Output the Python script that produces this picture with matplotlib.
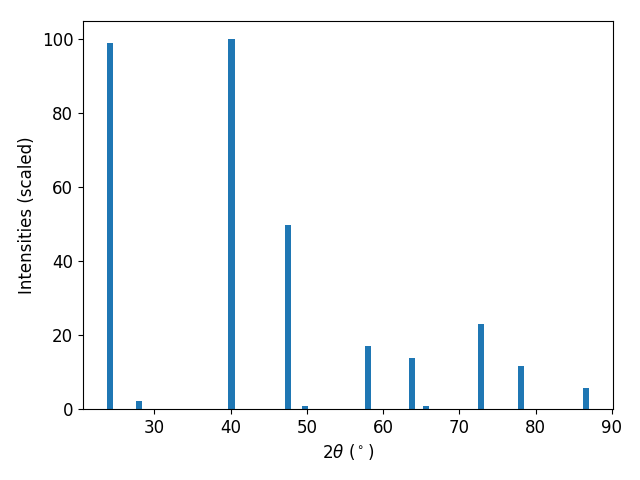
import matplotlib
matplotlib.use("Agg")
import matplotlib.pyplot as plt

two_theta = [24.2, 28.03, 40.12, 47.5, 49.74, 58.0, 63.75, 65.6, 72.9, 78.1, 86.6]
intensity = [99.0, 2.3, 100.0, 49.9, 0.8, 17.1, 13.8, 0.8, 23.0, 11.6, 5.7]

fig, ax = plt.subplots(figsize=(6.4, 4.8), dpi=100)
ax.bar(two_theta, intensity, width=0.8, color="#1f77b4")
ax.set_xlabel(r"2$\theta$ ($^\circ$)", fontsize=12)
ax.set_ylabel("Intensities (scaled)", fontsize=12)
ax.tick_params(labelsize=12)
fig.subplots_adjust(left=83/640, right=613/640, top=1-21/480, bottom=1-409/480)
fig.savefig("out.png", dpi=100)
